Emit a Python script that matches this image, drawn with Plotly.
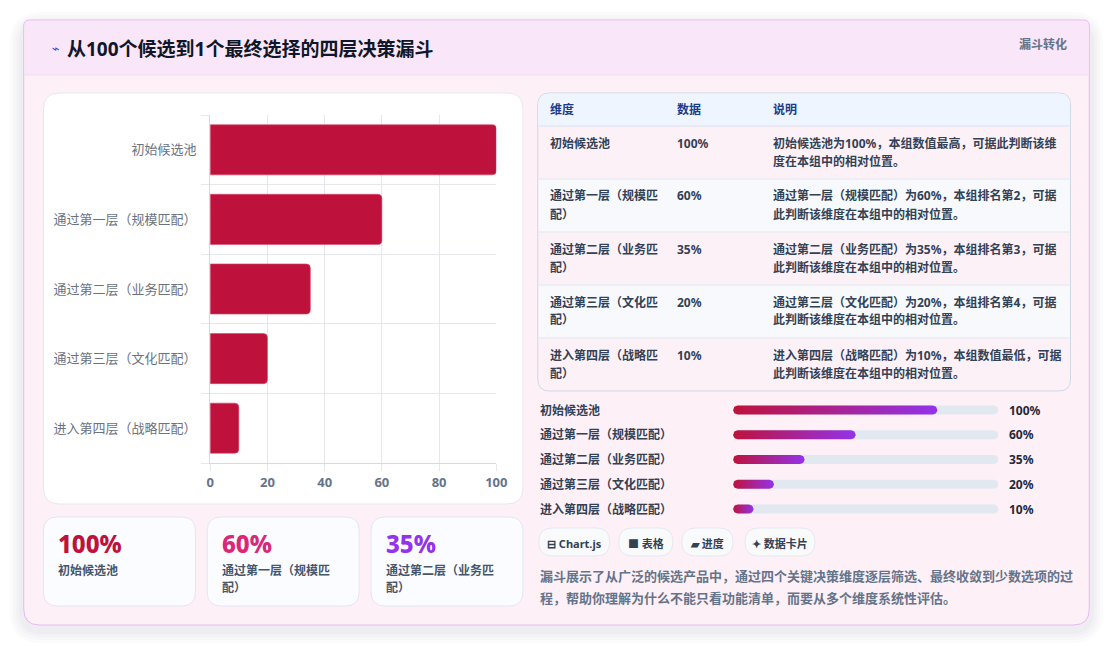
import numpy as np
import plotly.graph_objects as go

# ---------------- data ----------------
STAGES = ["初始候选池", "通过第一层（规模匹配）", "通过第二层（业务匹配）",
          "通过第三层（文化匹配）", "进入第四层（战略匹配）"]
VALUES = [100, 60, 35, 20, 10]
X_TICKS = [0, 20, 40, 60, 80, 100]
TABLE_HEAD = ["维度", "数据", "说明"]
NOTES = [
    "初始候选池为100%，本组数值最高，可据此判断该维度在本组中的相对位置。",
    "通过第一层（规模匹配）为60%，本组排名第2，可据此判断该维度在本组中的相对位置。",
    "通过第二层（业务匹配）为35%，本组排名第3，可据此判断该维度在本组中的相对位置。",
    "通过第三层（文化匹配）为20%，本组排名第4，可据此判断该维度在本组中的相对位置。",
    "进入第四层（战略匹配）为10%，本组数值最低，可据此判断该维度在本组中的相对位置。",
]
KPI_COUNT = 3
KPI_COLORS = ["#be123c", "#db2777", "#9333ea"]
CHIPS = ["⊟ Chart.js", "■ 表格", "▰ 进度", "✦ 数据卡片"]
TITLE = "从100个候选到1个最终选择的四层决策漏斗"
BADGE = "漏斗转化"
SUMMARY = "漏斗展示了从广泛的候选产品中，通过四个关键决策维度逐层筛选、最终收敛到少数选项的过程，帮助你理解为什么不能只看功能清单，而要从多个维度系统性评估。"

# ---------------- helpers ----------------
W, H = 1120, 646
FONT = "Noto Sans, Noto Sans CJK SC, sans-serif"


def px(x):
    return x / W


def py(y):
    return 1 - y / H


def rpath(x0, y0, x1, y1, r, r2=None):
    rt = r
    rb = r if r2 is None else r2
    p = [
        f"M{px(x0 + rt)},{py(y0)}", f"L{px(x1 - rt)},{py(y0)}",
        f"Q{px(x1)},{py(y0)} {px(x1)},{py(y0 + rt)}",
        f"L{px(x1)},{py(y1 - rb)}",
        f"Q{px(x1)},{py(y1)} {px(x1 - rb)},{py(y1)}",
        f"L{px(x0 + rb)},{py(y1)}",
        f"Q{px(x0)},{py(y1)} {px(x0)},{py(y1 - rb)}",
        f"L{px(x0)},{py(y0 + rt)}",
        f"Q{px(x0)},{py(y0)} {px(x0 + rt)},{py(y0)}", "Z",
    ]
    return " ".join(p)


shapes = []
annos = []


def box(x0, y0, x1, y1, r, fill, line=None, lw=1, r2=None):
    shapes.append(dict(type="path", xref="paper", yref="paper", layer="below",
                       path=rpath(x0, y0, x1, y1, r, r2), fillcolor=fill,
                       line=dict(color=line or "rgba(0,0,0,0)", width=lw if line else 0)))


def hline(x0, x1, y, color):
    shapes.append(dict(type="line", xref="paper", yref="paper", layer="below",
                       x0=px(x0), x1=px(x1), y0=py(y), y1=py(y),
                       line=dict(color=color, width=1)))


def text(x, y, s, size=12, color="#334155", bold=False, xanchor="left", weight=None, family=FONT):
    annos.append(dict(xref="paper", yref="paper", x=px(x), y=py(y), text=s,
                      showarrow=False, xanchor=xanchor, yanchor="middle",
                      font=dict(family=family, size=size, color=color,
                                weight=weight if weight else ("bold" if bold else "normal"))))


def wrap(s, n):
    return [s[i:i + n] for i in range(0, len(s), n)]


# ---------------- page / card ----------------
for k, a in enumerate([0.018, 0.018, 0.02, 0.025]):
    g = 14 - k * 3
    box(20 - g, 20 - g + 6, 1100 + g, 625 + g + 4, 18 + g, f"rgba(60,60,90,{a})")
box(20, 20, 1100, 625, 6, "#fdf0f7", "#e7b9ef", 1, r2=16)
box(21, 21, 1099, 75, 5, "#f9e6f8", r2=0)
hline(21, 1099, 75, "#efdcee")

text(47, 49, "⌁", size=13, color="#3b4fd8", family="DejaVu Sans")
text(62, 49, TITLE, size=19, color="#0f172a", bold=True)
text(1079, 44, BADGE, size=12, color="#64748b", bold=True, xanchor="right")

# ---------------- bar chart card ----------------
box(40, 93, 526, 504, 16, "#ffffff", "#e6e8f0")

ypos = list(range(len(STAGES)))
fig = go.Figure()
fig.add_trace(go.Bar(
    x=VALUES, y=ypos, orientation="h", width=0.72,
    marker=dict(color="#be123c", cornerradius=4, line=dict(color="#d9466a", width=0.6)),
    hoverinfo="x+y", xaxis="x", yaxis="y", showlegend=False))

# ---------------- table ----------------
TX0, TX1, TY0 = 541, 1081, 93
HEAD_H, ROW_H = 33, 53
COLS = [551, 680, 777]
TY1 = TY0 + HEAD_H + ROW_H * len(STAGES)
box(TX0, TY0, TX1, TY1, 12, "#fdf1f8", "#cfd8e6")
box(TX0 + 0.5, TY0 + 0.5, TX1 - 0.5, TY0 + HEAD_H, 11.5, "#eef5ff", r2=0)
hline(TX0 + 1, TX1 - 1, TY0 + HEAD_H, "#d8e1ee")
for c, h in zip(COLS, TABLE_HEAD):
    text(c, TY0 + HEAD_H / 2 + 0.5, h, size=12, color="#1e3a8a", bold=True)
for i, (name, v, note) in enumerate(zip(STAGES, VALUES, NOTES)):
    top = TY0 + HEAD_H + ROW_H * i
    if i % 2 == 1:
        box(TX0 + 1, top + 0.5, TX1 - 1, top + ROW_H - 0.5, 0, "#f7f9fc")
    if i > 0:
        hline(TX0 + 1, TX1 - 1, top, "#e3e7ef")
    for k, ln in enumerate(wrap(name, 9)):
        text(COLS[0], top + 17 + 18 * k, ln, size=12, color="#334155", bold=True)
    text(COLS[1], top + 17, f"{v}%", size=12, color="#334155", bold=True)
    for k, ln in enumerate(wrap(note, 25)):
        text(COLS[2], top + 17 + 18 * k, ln, size=12, color="#334155", bold=True)

# ---------------- progress bars ----------------
TRACK_PX, FULL_PX = 269, 207
PR_MAX = 100 * TRACK_PX / FULL_PX
ROW_PX = 24.75
R_PX = 4.5
rx = R_PX * PR_MAX / TRACK_PX
ry = R_PX / ROW_PX


def pill(length, yc):
    t1 = np.linspace(-np.pi / 2, np.pi / 2, 20)
    t2 = np.linspace(np.pi / 2, 3 * np.pi / 2, 20)
    xs = np.concatenate([length - rx + rx * np.cos(t1), rx + rx * np.cos(t2)])
    ys = np.concatenate([yc + ry * np.sin(t1), yc + ry * np.sin(t2)])
    return np.append(xs, xs[0]), np.append(ys, ys[0])


for i, v in enumerate(VALUES):
    xs, ys = pill(PR_MAX, i)
    fig.add_trace(go.Scatter(x=xs, y=ys, fill="toself", fillcolor="#e2e8f0", mode="lines",
                             line=dict(width=0, color="#e2e8f0"), hoverinfo="skip",
                             xaxis="x2", yaxis="y2", showlegend=False))
    xs, ys = pill(v, i)
    fig.add_trace(go.Scatter(x=xs, y=ys, fill="toself", mode="lines",
                             fillgradient=dict(type="horizontal",
                                               colorscale=[[0, "#be123c"], [1, "#9333ea"]]),
                             line=dict(width=0, color="#be123c"), hoverinfo="skip",
                             xaxis="x2", yaxis="y2", showlegend=False))
    annos.append(dict(xref="paper", yref="y2", x=px(541), y=i, text=STAGES[i], showarrow=False,
                      xanchor="left", yanchor="middle",
                      font=dict(family=FONT, size=12, color="#334155", weight="bold")))
    annos.append(dict(xref="paper", yref="y2", x=px(1017), y=i, text=f"{v}%", showarrow=False,
                      xanchor="left", yanchor="middle",
                      font=dict(family=FONT, size=12, color="#1e293b", weight="bold")))

PR_TOP = 410 - ROW_PX / 2
PR_BOT = PR_TOP + ROW_PX * len(VALUES)

# ---------------- KPI cards ----------------
KX = [40, 206, 372]
for k in range(KPI_COUNT):
    x0 = KX[k]
    box(x0, 517, x0 + 154, 606, 14, "#fbfcff", "#e3e6f3")
    text(x0 + 13, 543, f"{VALUES[k]}%", size=24, color=KPI_COLORS[k], weight=800)
    for j, ln in enumerate(wrap(STAGES[k], 9)):
        text(x0 + 13, 570 + 17 * j, ln, size=12, color="#475569", weight=600)

# ---------------- chips ----------------
CHIP_X = [(542, 614), (623, 678), (687, 739), (751, 822)]
for (a, b), c in zip(CHIP_X, CHIPS):
    box(a, 528, b, 556, 14, "#f8fafc", "#e5e9f0")
    text((a + b) / 2, 543, c, size=11, color="#334155", bold=True, xanchor="center")

for j, ln in enumerate(wrap(SUMMARY, 41)):
    text(541, 576 + 22 * j, ln, size=13, color="#64748b", weight=600)

# ---------------- layout ----------------
fig.update_layout(
    width=W, height=H, autosize=False,
    margin=dict(l=0, r=0, t=0, b=0),
    paper_bgcolor="#ffffff", plot_bgcolor="rgba(0,0,0,0)",
    font=dict(family=FONT),
    shapes=shapes, annotations=annos,
    bargap=0.28,
    xaxis=dict(domain=[px(209), px(499)], range=[0, 100], tickvals=X_TICKS,
               showgrid=True, gridcolor="#e5e7eb", gridwidth=1, zeroline=False,
               showline=True, linecolor="#d5d9e0", ticks="outside", ticklen=7,
               tickcolor="#e5e7eb", tickfont=dict(size=13, color="#64748b", weight="bold"),
               fixedrange=True, anchor="y"),
    yaxis=dict(domain=[1 - 463 / H, 1 - 115 / H], range=[len(STAGES) - 0.5, -0.5],
               tickvals=ypos, ticktext=STAGES, showgrid=False, zeroline=False,
               showline=True, linecolor="#d5d9e0", ticks="", ticklabelstandoff=10,
               tickfont=dict(size=13, color="#6b7280"),
               minor=dict(tickvals=[i - 0.5 for i in range(len(STAGES) + 1)], showgrid=True,
                          gridcolor="#e5e7eb", ticks="outside", ticklen=8, tickcolor="#e5e7eb"),
               fixedrange=True, anchor="x"),
    xaxis2=dict(domain=[px(739), px(1008)], range=[0, PR_MAX], visible=False,
                fixedrange=True, anchor="y2"),
    yaxis2=dict(domain=[1 - PR_BOT / H, 1 - PR_TOP / H], range=[len(VALUES) - 0.5, -0.5],
                visible=False, fixedrange=True, anchor="x2"),
)

POST = ("document.documentElement.style.overflow='hidden';"
        "document.body.style.margin='0';document.body.style.overflow='hidden';")

fig.write_html("out.html", config={"displayModeBar": False}, post_script=POST)
